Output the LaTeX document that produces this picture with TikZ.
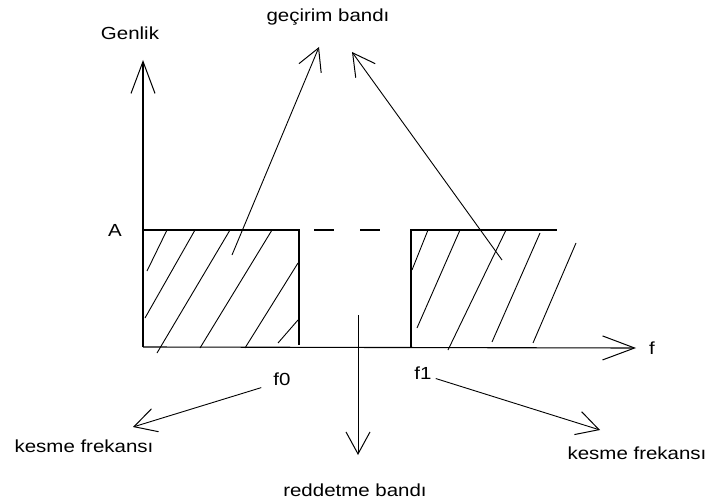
\documentclass[tikz,border=0pt]{standalone}
\usepackage{fontspec}
\setmainfont{Liberation Sans}[FakeStretch=1.17]
\usepackage{tikz}
\usetikzlibrary{arrows.meta, positioning, calc}

\begin{document}
\begin{tikzpicture}[
    x=1pt, y=-1pt,
    lbl/.style={inner sep=0pt, font=\fontsize{17.5}{17.5}\selectfont},
    edge/.style={line width=1.3pt},
    hatch/.style={line width=0.9pt},
    axis/.style={line width=1.1pt, -{Straight Barb[length=32pt, width=24pt, line width=1pt]}},
    arr/.style={line width=0.9pt, -{Straight Barb[length=22pt, width=24pt, line width=1pt]}},
]
    \useasboundingbox (0,0) rectangle (713,503);

    % Axes
    \coordinate (O) at (143,347);
    \coordinate (ytop) at (143,60);
    \coordinate (xend) at (636,348);
    \draw[axis] (O) -- (ytop);
    \draw[axis] (O) -- (xend);
    \node[lbl] (genlik) at (130,33) {Genlik};
    \node[lbl] (lblA) at (115,230) {A};
    \node[lbl] (lblf) at (652,348) {f};

    % Pass bands
    \draw[edge] (143,230) -- (299,230) -- (299,345);
    \draw[edge] (411,347) -- (411,230) -- (557,230);
    \draw[edge, dash pattern=on 20pt off 26pt] (314,230) -- (388,230);

    % Hatching
    \foreach \xa/\ya/\xb/\yb in {167/230/147/271, 195/230/145/318, 230/230/157/353,
        272/230/200/348, 298/263/245/348, 298/320/278/343,
        428/230/412/270, 460/230/417/328, 506/230/448/350, 540/233/492/342, 576/243/533/343}
        \draw[hatch] (\xa,\ya) -- (\xb,\yb);

    % Labels
    \node[lbl] (gecirim) at (328,17) {geçirim bandı};
    \node[lbl] (lblf0) at (282,379) {f0};
    \node[lbl] (lblf1) at (423,373) {f1};
    \node[lbl] (kesme0) at (84,446) {kesme frekansı};
    \node[lbl] (kesme1) at (637,453) {kesme frekansı};
    \node[lbl] (reddet) at (355,490) {reddetme bandı};

    % Arrows
    \coordinate (p0) at (232,255);
    \coordinate (g0) at (319,47);
    \coordinate (p1) at (502,260);
    \coordinate (g1) at (352,52);
    \coordinate (r0) at (358,315);
    \coordinate (r1) at (358,455);
    \coordinate (k0) at (133,427);
    \coordinate (k1) at (600,430);
    \draw[arr] (p0) -- (g0);
    \draw[arr] (p1) -- (g1);
    \draw[arr] (r0) -- (r1);
    \draw[arr] (lblf0.south west) ++(-12,2) -- (k0);
    \draw[arr] (lblf1.south east) ++(4,-1) -- (k1);
\end{tikzpicture}
\end{document}
